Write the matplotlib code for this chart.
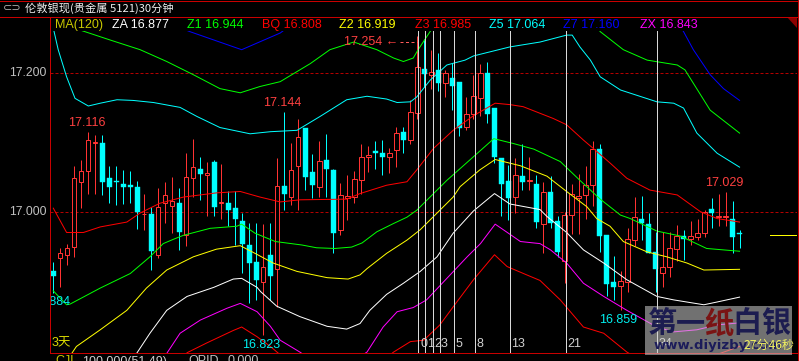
import matplotlib
matplotlib.use("Agg")
import matplotlib.pyplot as plt
import matplotlib.transforms as mtransforms
from matplotlib.patches import Rectangle, Polygon
from matplotlib.lines import Line2D

plt.rcParams['font.family'] = ['Liberation Sans', 'Noto Sans CJK SC', 'DejaVu Sans']

# ---------------- data ----------------
opens = [16.916, 16.935, 16.938, 16.950, 17.043, 17.060, 17.100, 17.100, 17.049, 17.045,
         17.041, 17.039, 17.036, 16.997, 16.998, 16.939, 17.013, 17.009, 17.014, 16.967,
         17.050, 17.063, 17.053, 17.073, 17.013, 17.013, 17.006, 16.987, 16.953, 16.929,
         16.900, 16.939, 16.918, 17.038, 17.022, 17.066, 17.121, 17.058, 17.037, 17.075,
         17.061, 16.974, 17.021, 17.022, 17.047, 17.080, 17.088, 17.086, 17.080, 17.090,
         17.116, 17.104, 17.143, 17.206, 17.197, 17.205, 17.186, 17.193, 17.187, 17.123,
         17.141, 17.164, 17.200, 17.150, 17.078, 17.045, 17.022, 17.052, 17.045, 17.041,
         16.983, 17.029, 16.988, 16.930, 16.996, 17.021, 17.025, 17.039, 17.091, 16.967,
         16.900, 16.894, 16.900, 16.960, 16.990, 16.983, 16.943, 16.913, 16.922, 16.947,
         16.966, 16.961, 16.965, 16.970, 17.005, 16.993, 16.993, 16.991, 16.970]
highs = [16.929, 16.948, 16.955, 17.066, 17.075, 17.116, 17.111, 17.111, 17.066, 17.066,
         17.061, 17.060, 17.045, 17.027, 17.008, 17.035, 17.043, 17.051, 17.035, 17.085,
         17.105, 17.079, 17.073, 17.075, 17.069, 17.031, 17.031, 16.999, 16.985, 16.985,
         16.983, 16.984, 17.078, 17.144, 17.100, 17.135, 17.121, 17.084, 17.103, 17.113,
         17.063, 17.042, 17.054, 17.059, 17.099, 17.095, 17.103, 17.104, 17.092, 17.123,
         17.123, 17.162, 17.254, 17.250, 17.233, 17.229, 17.205, 17.215, 17.187, 17.166,
         17.197, 17.214, 17.217, 17.150, 17.078, 17.068, 17.078, 17.098, 17.079, 17.054,
         17.044, 17.052, 16.994, 17.001, 17.041, 17.055, 17.066, 17.103, 17.098, 16.967,
         16.937, 16.915, 16.978, 17.022, 17.023, 16.999, 16.972, 16.972, 16.971, 16.982,
         16.975, 16.988, 16.991, 17.003, 17.020, 17.027, 17.029, 17.016, 16.975]
lows = [16.884, 16.893, 16.924, 16.936, 17.006, 17.027, 17.027, 17.025, 17.013, 17.010,
        17.012, 17.013, 16.976, 16.975, 16.917, 16.934, 16.984, 16.970, 16.946, 16.951,
        17.022, 17.018, 16.995, 16.995, 16.991, 16.980, 16.953, 16.912, 16.870, 16.874,
        16.823, 16.874, 16.864, 17.003, 17.010, 17.003, 17.032, 17.020, 17.022, 17.022,
        16.941, 16.967, 16.989, 17.013, 17.027, 17.058, 17.063, 17.054, 17.056, 17.065,
        17.086, 17.099, 17.135, 17.181, 17.177, 17.175, 17.166, 17.147, 17.110, 17.118,
        17.135, 17.138, 17.128, 17.071, 16.994, 16.989, 16.999, 17.032, 17.032, 16.977,
        16.941, 16.977, 16.936, 16.898, 16.969, 16.969, 16.990, 17.009, 16.943, 16.879,
        16.874, 16.859, 16.886, 16.951, 16.960, 16.941, 16.886, 16.893, 16.907, 16.930,
        16.931, 16.953, 16.960, 16.965, 16.977, 16.980, 16.980, 16.942, 16.948]
closes = [16.909, 16.941, 16.948, 17.049, 17.059, 17.104, 17.101, 17.043, 17.037, 17.043,
          17.037, 17.037, 17.001, 16.998, 16.945, 17.008, 17.025, 17.016, 16.971, 17.051,
          17.065, 17.055, 17.056, 17.007, 17.015, 17.004, 16.991, 16.954, 16.927, 16.902,
          16.921, 16.909, 17.038, 17.026, 17.061, 17.108, 17.051, 17.039, 17.074, 17.062,
          16.970, 17.025, 17.023, 17.048, 17.080, 17.083, 17.086, 17.080, 17.085, 17.114,
          17.104, 17.145, 17.209, 17.199, 17.202, 17.186, 17.201, 17.182, 17.122, 17.141,
          17.167, 17.201, 17.142, 17.079, 17.041, 17.021, 17.054, 17.043, 17.047, 16.986,
          17.029, 16.984, 16.943, 16.996, 17.027, 17.023, 17.039, 17.091, 16.966, 16.897,
          16.893, 16.901, 16.961, 16.993, 16.984, 16.942, 16.918, 16.922, 16.948, 16.966,
          16.962, 16.966, 16.970, 17.001, 16.999, 16.995, 16.995, 16.965, 16.969]

# band lines (x = bar index, y = price)
z7_idx = [0, 12, 19.5, 26.9, 32.4, 38, 50, 63, 75, 85, 90, 91.4, 93.8, 95.7, 98]
z7_val = [17.35, 17.29, 17.260, 17.234, 17.258, 17.30, 17.38, 17.42, 17.40, 17.33,
          17.260, 17.234, 17.198, 17.178, 17.161]
zu_idx = [0, 4.5, 8.1, 12.4, 16.2, 20, 23.8, 26.7, 29.5, 32.4, 36.7, 39.5, 42.9, 46.2,
          48.6, 50, 51.4, 52.1, 53.8, 57, 63, 70, 76, 78.1, 81.4, 84.8, 89.1, 90.2, 93.8, 98]
zu_val = [17.275, 17.260, 17.248, 17.234, 17.217, 17.198, 17.178, 17.172, 17.181, 17.188,
          17.214, 17.234, 17.245, 17.234, 17.222, 17.217, 17.222, 17.234, 17.260, 17.30,
          17.33, 17.32, 17.29, 17.260, 17.234, 17.219, 17.212, 17.205, 17.147, 17.114]
z5_idx = [0, 0.7, 1.9, 3.1, 5, 6.7, 9.1, 11.4, 14.3, 18.1, 20.5, 23.8, 28.1, 31, 34.8,
          38.1, 41.9, 44.8, 47.6, 49.1, 51, 51.9, 53.8, 56.2, 58.8, 60, 65.2, 69.5, 73.3,
          74.1, 75.2, 76.7, 78.1, 81, 86.2, 88.6, 90, 91.9, 94.8, 98]
z5_val = [17.265, 17.234, 17.195, 17.164, 17.153, 17.157, 17.162, 17.161, 17.158, 17.151,
          17.138, 17.122, 17.113, 17.116, 17.118, 17.138, 17.162, 17.167, 17.163, 17.158,
          17.159, 17.166, 17.190, 17.212, 17.219, 17.225, 17.238, 17.245, 17.255, 17.255,
          17.238, 17.219, 17.195, 17.176, 17.159, 17.157, 17.150, 17.114, 17.085, 17.065]
z3_idx = [0, 1.9, 4.3, 6.7, 10.5, 12.4, 15.2, 18.6, 23.3, 26.7, 29.5, 32.4, 35.2, 41.9,
          43.8, 47.6, 50.5, 51.9, 54.3, 57.1, 60, 63.1, 65.2, 67.1, 71.4, 73.3, 75.7, 77.1,
          79.5, 81.9, 85.2, 89.1, 92.4, 94.8, 98]
z3_val = [17.006, 16.971, 16.971, 16.979, 16.986, 16.999, 17.013, 17.022, 17.028, 17.030,
          17.022, 17.015, 17.018, 17.019, 17.027, 17.039, 17.044, 17.061, 17.092, 17.118,
          17.139, 17.157, 17.155, 17.152, 17.135, 17.126, 17.104, 17.092, 17.071, 17.049,
          17.032, 17.025, 17.001, 16.991, 16.986]
z1_idx = [0, 1.9, 2.4, 6.7, 11, 13.8, 15.7, 17.1, 18.6, 22.4, 26.2, 26.9, 28.8, 31.7,
          35.5, 37.6, 40.2, 42.6, 44.1, 46.2, 48.6, 50.5, 51.9, 53.1, 56.2, 60, 62.9, 65.7,
          68.6, 72.4, 75.2, 78.1, 81, 82.4, 86.2, 89.5, 93.3, 98]
z1_val = [16.887, 16.867, 16.868, 16.891, 16.912, 16.936, 16.955, 16.961, 16.967, 16.977,
          16.980, 16.983, 16.970, 16.958, 16.953, 16.949, 16.948, 16.950, 16.956, 16.972,
          16.984, 16.993, 17.003, 17.015, 17.046, 17.080, 17.106, 17.099, 17.091, 17.073,
          17.046, 17.019, 16.996, 16.991, 16.973, 16.966, 16.948, 16.944]
z2_idx = [0, 1.9, 3.3, 6.7, 10.5, 13.3, 16.2, 20, 23.3, 26.7, 28.8, 31.4, 34.8, 39.1,
          42.1, 43.8, 44.8, 47.6, 50.5, 52.4, 55.2, 57.1, 58.1, 60.9, 63.1, 66.7, 70.5,
          73.3, 76.2, 77.6, 79.5, 81.4, 84.8, 87.6, 90.5, 92.9, 98]
z2_val = [16.77, 16.786, 16.807, 16.831, 16.859, 16.891, 16.917, 16.936, 16.947, 16.952,
          16.941, 16.927, 16.915, 16.906, 16.904, 16.910, 16.919, 16.941, 16.960, 16.975,
          17.003, 17.022, 17.037, 17.061, 17.076, 17.067, 17.052, 17.030, 17.008, 16.991,
          16.980, 16.958, 16.943, 16.936, 16.927, 16.917, 16.918]
za_idx = [0, 10, 11.9, 13.8, 16.2, 19.1, 22.9, 25.7, 26.9, 29.1, 29.6, 31.9, 35.2, 39.1,
          41.9, 43.8, 45.2, 47.6, 50, 52.4, 54.8, 57.1, 60, 63, 65.2, 69.5, 70.5, 73.3,
          75.7, 78.6, 81.9, 86.2, 88.6, 92.9, 94.8, 98]
za_val = [16.60, 16.76, 16.797, 16.826, 16.859, 16.879, 16.892, 16.904, 16.905, 16.892,
          16.886, 16.865, 16.850, 16.836, 16.832, 16.840, 16.859, 16.882, 16.898, 16.915,
          16.936, 16.970, 17.002, 17.027, 17.012, 17.004, 16.994, 16.971, 16.946, 16.927,
          16.903, 16.879, 16.874, 16.867, 16.871, 16.878]
zx_idx = [0, 15, 16.2, 18.1, 21, 24.8, 26.7, 29.1, 31, 32.4, 35.2, 38, 42, 44.8, 47.1,
          49.1, 51.4, 53.3, 56.2, 59.1, 61, 63.1, 65.7, 66.7, 69.5, 71, 73.3, 75.7, 78.6,
          81.9, 86.2, 88.6, 91.9, 94.8, 98]
zx_val = [16.65, 16.775, 16.797, 16.826, 16.845, 16.862, 16.869, 16.857, 16.836, 16.816,
          16.799, 16.78, 16.78, 16.799, 16.835, 16.857, 16.863, 16.874, 16.905, 16.936,
          16.955, 16.983, 16.965, 16.958, 16.955, 16.946, 16.927, 16.898, 16.879, 16.859,
          16.835, 16.828, 16.831, 16.838, 16.841]
bq_idx = [0, 18, 19.1, 21.9, 25.7, 26.9, 29.1, 31, 32.4, 36, 45, 48.6, 51, 52.9, 55.2,
          57.1, 60, 63, 64.8, 67.6, 69.5, 72.4, 75.7, 78.6, 81.9, 85, 93, 95.2, 98]
bq_val = [16.60, 16.78, 16.798, 16.812, 16.830, 16.835, 16.821, 16.807, 16.795, 16.77,
          16.77, 16.799, 16.814, 16.816, 16.838, 16.864, 16.903, 16.939, 16.922, 16.910,
          16.902, 16.874, 16.835, 16.826, 16.799, 16.78, 16.78, 16.797, 16.807]
ma120_level = 16.968

title = "伦敦银现(贵金属 5121)30分钟"
legend_names = ["MA(120)", "ZA", "Z1", "BQ", "Z2", "Z3", "Z5", "Z7", "ZX"]
legend_values = [None, 16.877, 16.944, 16.808, 16.919, 16.985, 17.064, 17.160, 16.843]
ytick_values = [17.200, 17.000]
fib_start = 52
fib_offsets = [0, 1, 2, 3, 5, 8, 13, 21, 34]
high_marks = [(5, 17.116), (33, 17.144), (96, 17.029)]
low_marks = [(0, 16.884), (30, 16.823), (81, 16.859)]
peak_mark = (52, 17.254)
status_texts = ["CJL", "100.000(51.49)", "OPID", "0.000"]

# ---------------- drawing ----------------
W, H = 799, 361
fig = plt.figure(figsize=(W / 100, H / 100), dpi=100)
fig.patch.set_facecolor('black')


def fx(x):
    return x / W


def fy(y):
    return 1 - y / H


L, R, T, B = 50, 797, 31, 353
ax = fig.add_axes([fx(L), fy(B), (R - L) / W, (B - T) / H])
ax.set_facecolor('black')
for s in ax.spines.values():
    s.set_visible(False)
ax.set_xticks([])
ax.set_yticks([])
ax.set_xlim(-0.471, 106.2)
ax.set_ylim(16.7976, 17.2609)

PX = 0.72
RED = '#ff3232'
CYAN = '#00ffff'
GRID = '#b40000'

# horizontal dashed price lines
for v in ytick_values:
    ax.axhline(v, color=GRID, lw=PX, dashes=(3, 2), zorder=1)

# candles
for i, (o, h, l, c) in enumerate(zip(opens, highs, lows, closes)):
    top, bot = max(o, c), min(o, c)
    if c >= o:
        ax.plot([i, i], [top, h], color=RED, lw=PX, zorder=3, solid_capstyle='butt')
        ax.plot([i, i], [l, bot], color=RED, lw=PX, zorder=3, solid_capstyle='butt')
        ax.add_patch(Rectangle((i - 0.3, bot), 0.6, max(top - bot, 0.0004),
                               facecolor='black', edgecolor=RED, lw=PX, zorder=4))
    else:
        ax.plot([i, i], [l, h], color=CYAN, lw=PX, zorder=3, solid_capstyle='butt')
        ax.add_patch(Rectangle((i - 0.36, bot), 0.72, max(top - bot, 0.0012),
                               facecolor=CYAN, edgecolor=CYAN, lw=0.3, zorder=4))

# band lines
bands = [
    (z7_idx, z7_val, '#0000ff'),
    (zu_idx, zu_val, '#00ff00'),
    (z5_idx, z5_val, '#00ffff'),
    (z3_idx, z3_val, '#ff0000'),
    (z1_idx, z1_val, '#00ff00'),
    (z2_idx, z2_val, '#ffff00'),
    (za_idx, za_val, '#ffffff'),
    (zx_idx, zx_val, '#ff00ff'),
    (bq_idx, bq_val, '#ff0000'),
]
for idx, val, col in bands:
    ax.plot(idx, val, color=col, lw=PX, zorder=5)

# MA(120) short level at the right
ax.plot([102.4, 106.2], [ma120_level, ma120_level], color='#ffff00', lw=PX, zorder=5)

# fibonacci time lines
bottom_lab = mtransforms.blended_transform_factory(ax.transData, fig.transFigure)
for k in fib_offsets:
    xi = fib_start + k + 0.15
    ax.plot([xi, xi], [16.7976, 17.2609], color='#d8d8d8', lw=PX, zorder=6)
    ax.text(xi + 0.22, fy(344), str(k), transform=bottom_lab, color='#d0d0d0',
            fontsize=9, ha='left', va='center', zorder=7)

# high / low marks
for i, v in high_marks:
    ax.annotate(f"{v:.3f}", xy=(i, v), xytext=(-1.2, 6.3), textcoords='offset points',
                ha='center', va='center', color='#ff4040', fontsize=9, zorder=8,
                annotation_clip=False)
for i, v in low_marks:
    t = ax.annotate(f"{v:.3f}", xy=(i, v), xytext=(-1.4, -6.8), textcoords='offset points',
                    ha='center', va='center', color='#00f0f0', fontsize=9, zorder=8)
    t.set_clip_path(ax.patch)
    t.set_clip_on(True)

pi, pv = peak_mark
ax.annotate(f"{pv:.3f} ←", xy=(pi, pv), xytext=(-13.5, -4.2), textcoords='offset points',
            ha='right', va='center', color='#ff4040', fontsize=9, zorder=8)
off = mtransforms.offset_copy(ax.transData, fig=fig, x=0, y=-5.9, units='dots')
ax.plot([pi - 2.5, pi - 0.1], [pv, pv], transform=off, color='#ff5a5a', lw=PX,
        dashes=(3, 2.5), zorder=8)

# y labels
ylab = mtransforms.blended_transform_factory(fig.transFigure, ax.transData)
for v in ytick_values:
    fig.text(fx(46.5), v, f"{v:.3f}", transform=ylab, color='#c0c0c0', fontsize=8.7,
             ha='right', va='center')

# legend row
leg_x = [55, 112, 187, 262, 339, 415, 489, 563, 640]
leg_col = ['#c8c800', '#ffffff', '#00ff00', '#ff0000', '#ffff00', '#ff0000', '#00ffff',
           '#0000ff', '#ff00ff']
for name, val, x, col in zip(legend_names, legend_values, leg_x, leg_col):
    s = name if val is None else f"{name} {val:.3f}"
    fig.text(fx(x), fy(25.3), s, color=col, fontsize=9, ha='left', va='center')

# title bar
fig.text(fx(3), fy(8.5), "⊂⊃", color='#b0b0b0', fontsize=8, ha='left', va='center',
         family=['DejaVu Sans'])
fig.text(fx(25), fy(8.5), title, color='#eeeeee', fontsize=8.1, ha='left', va='center',
         family=['Noto Sans CJK SC', 'DejaVu Sans'])

# frame
frame_col = '#c80000'
fig.add_artist(Line2D([0, 1], [fy(17), fy(17)], color=frame_col, lw=PX, transform=fig.transFigure))
fig.add_artist(Line2D([fx(50), fx(50)], [fy(17), fy(353)], color=frame_col, lw=PX, transform=fig.transFigure))
fig.add_artist(Line2D([fx(50), 1], [fy(353), fy(353)], color=frame_col, lw=PX, transform=fig.transFigure))
fig.add_artist(Line2D([fx(797.5), fx(797.5)], [fy(0), fy(361)], color=frame_col, lw=PX, transform=fig.transFigure))
fig.add_artist(Line2D([0, 1], [fy(0.5), fy(0.5)], color=frame_col, lw=PX, transform=fig.transFigure))
fig.add_artist(Polygon([[fx(787), fy(17)], [fx(797), fy(17)], [fx(797), fy(28)]], closed=True,
                       facecolor='#8c0000', edgecolor='none', transform=fig.transFigure))

# bottom-left tag
fig.text(fx(52), fy(343.5), "3天", color='#dcdc00', fontsize=9, ha='left', va='center',
         family=['Liberation Sans', 'Noto Sans CJK SC'])

# status row (cut off by the bottom edge)
st_x = [55, 82, 188, 227]
st_col = ['#c8c800', '#d0d0d0', '#c0c0c0', '#c0c0c0']
for s, x, col in zip(status_texts, st_x, st_col):
    fig.text(fx(x), fy(355.5), s, color=col, fontsize=9, ha='left', va='top')

# watermark box
fig.add_artist(Rectangle((fx(645), fy(355)), fx(792) - fx(645), fy(306) - fy(355),
                         facecolor='#d0d0d0', alpha=0.55, edgecolor='none',
                         transform=fig.transFigure, zorder=9))
wm_chars = ["第", "一", "纸", "白", "银"]
wm_cols = ['#1c1c50', '#1c1c50', '#7a1414', '#1c1c50', '#1c1c50']
for k, (ch, col) in enumerate(zip(wm_chars, wm_cols)):
    fig.text(fx(662.2 + 28.4 * k), fy(323), ch, color=col, fontsize=21, fontweight='bold',
             ha='center', va='center', family=['Noto Sans CJK SC'], zorder=10)
fig.text(fx(718), fy(345.5), "www.diyizby.com", color='#1c1c5a', fontsize=9.5,
         fontweight='bold', ha='center', va='center', family=['DejaVu Sans'], zorder=10)
fig.text(fx(743), fy(345), "27分46秒", color='#f0f060', fontsize=8.7, ha='left',
         va='center', family=['Noto Sans CJK SC', 'DejaVu Sans'], zorder=11)

fig.savefig('out.png', dpi=100, facecolor='black')
